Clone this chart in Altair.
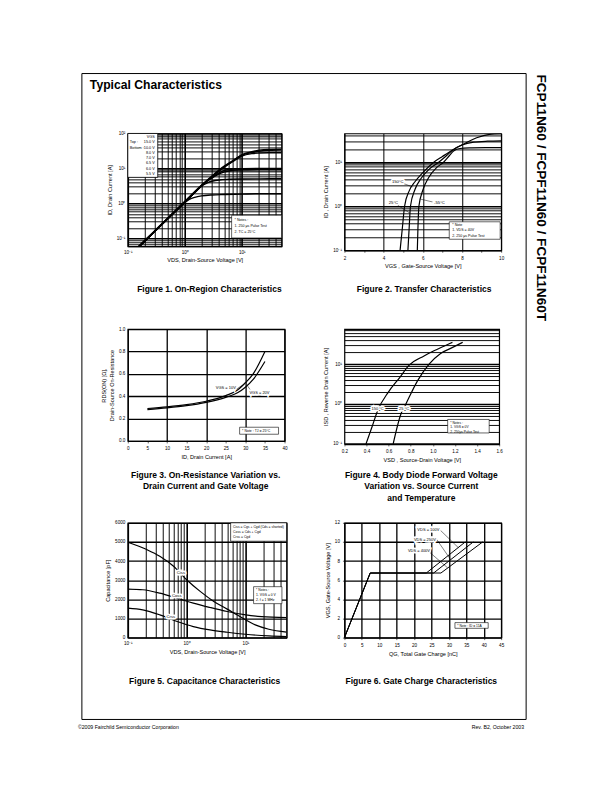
import altair as alt
import pandas as pd

FONT = "Liberation Sans"

# ---------------- Figure 1 : On-Region Characteristics (VDS [V] vs ID [A]) ----------------
f1_x_15 = [0.15, 0.2, 0.3, 0.5, 0.7, 1.0, 1.5, 2.0, 3.0, 5.0, 7.0, 10, 15, 20, 30, 50]
f1_y_15 = [0.057, 0.09, 0.17, 0.38, 0.65, 1.15, 2.2, 3.4, 6.1, 11.8, 16.8, 24.5, 30, 33, 35, 35.5]
f1_x_10 = [0.15, 0.2, 0.3, 0.5, 0.7, 1.0, 1.5, 2.0, 3.0, 5.0, 7.0, 10, 15, 20, 30, 50]
f1_y_10 = [0.055, 0.087, 0.165, 0.37, 0.63, 1.1, 2.1, 3.3, 5.9, 11.3, 16.2, 24, 28.5, 31, 33, 33.5]
f1_x_8 = [0.15, 0.2, 0.3, 0.5, 0.7, 1.0, 1.5, 2.0, 3.0, 5.0, 7.0, 10, 15, 20, 30, 50]
f1_y_8 = [0.053, 0.084, 0.16, 0.36, 0.61, 1.07, 2.05, 3.2, 5.8, 11.0, 15.8, 22.5, 26.5, 27.5, 28, 28]
f1_x_7 = [0.15, 0.2, 0.3, 0.5, 0.7, 1.0, 1.5, 2.0, 2.4, 3.0, 4.0, 5.0, 7.0, 10, 20, 50]
f1_y_7 = [0.055, 0.086, 0.164, 0.37, 0.63, 1.1, 2.1, 3.3, 4.3, 5.5, 7.5, 8.8, 9.6, 9.9, 10, 10]
f1_x_65 = [0.15, 0.2, 0.3, 0.5, 0.7, 1.0, 1.5, 2.0, 2.4, 3.0, 4.0, 5.0, 7.0, 10, 20, 50]
f1_y_65 = [0.054, 0.085, 0.162, 0.365, 0.62, 1.08, 2.07, 3.25, 4.2, 5.3, 7.0, 8.0, 8.8, 9.2, 9.4, 9.5]
f1_x_6 = [0.15, 0.2, 0.3, 0.5, 0.7, 1.0, 1.5, 1.9, 2.5, 3.0, 4.0, 6.0, 10, 20, 50]
f1_y_6 = [0.054, 0.085, 0.162, 0.365, 0.62, 1.08, 2.05, 3.0, 3.9, 4.3, 4.7, 4.9, 5.0, 5.05, 5.1]
f1_x_55 = [0.15, 0.2, 0.3, 0.5, 0.7, 1.0, 1.2, 1.5, 2.0, 3.0, 5.0, 10, 20, 50]
f1_y_55 = [0.053, 0.084, 0.16, 0.36, 0.61, 1.05, 1.3, 1.5, 1.65, 1.75, 1.8, 1.85, 1.9, 1.9]
f1_xgrid = [0.1, 0.2, 0.3, 0.4, 0.5, 0.6, 0.7, 0.8, 0.9, 1, 2, 3, 4, 5, 6, 7, 8, 9, 10, 20, 30, 40, 50]
f1_ygrid = [0.06, 0.07, 0.08, 0.09, 0.1, 0.2, 0.3, 0.4, 0.5, 0.6, 0.7, 0.8, 0.9, 1, 2, 3, 4, 5, 6, 7, 8, 9,
            10, 20, 30, 40, 50, 60, 70, 80, 90, 100]
f1_legend_values = ["VGS", "15.0 V", "10.0 V", "8.0 V", "7.0 V", "6.5 V", "6.0 V", "5.5 V"]
f1_legend_keys = ["", "Top :", "", "", "", "", "", "Bottom :"]
f1_notes = ["* Notes :", "  1. 250 μs Pulse Test", "  2. TC = 25°C"]

# ---------------- Figure 2 : Transfer Characteristics (VGS [V] vs ID [A]) ----------------
f2_x_150 = [4.84, 4.95, 5.07, 5.3, 5.6, 6.0, 6.56, 7.0, 7.57, 8.1, 8.75, 9.4, 10]
f2_y_150 = [0.1, 0.3, 1.0, 2.2, 3.6, 5.8, 10, 13.5, 19.5, 26, 36, 43, 44.5]
f2_x_25 = [5.24, 5.3, 5.37, 5.6, 5.9, 6.3, 6.81, 7.2, 7.57, 8.0, 8.6, 9.3, 10]
f2_y_25 = [0.1, 0.3, 1.0, 2.4, 4.2, 6.8, 10, 14, 19.5, 24.5, 28.5, 30, 30.5]
f2_x_m55 = [5.72, 5.75, 5.8, 6.0, 6.3, 6.7, 7.06, 7.35, 7.57, 7.9, 8.5, 9.2, 10]
f2_y_m55 = [0.1, 0.3, 1.0, 2.3, 4.5, 7.5, 10, 14, 18, 20.5, 21.2, 21.5, 21.5]
f2_xticks = [2, 3, 4, 5, 6, 7, 8, 9, 10]
f2_ygrid = [0.1, 0.2, 0.3, 0.4, 0.5, 0.6, 0.7, 0.8, 0.9, 1, 2, 3, 4, 5, 6, 7, 8, 9, 10, 20, 30, 40]
f2_lab_text = ["150°C", "25°C", "-55°C"]
f2_lab_x = [4.72, 4.5, 6.85]
f2_lab_y = [3.6, 1.19, 1.19]
f2_arr_x = [5.0, 4.72, 6.5]
f2_arr_y = [3.3, 1.05, 1.25]
f2_arr_x2 = [5.47, 5.34, 5.88]
f2_arr_y2 = [2.75, 0.7, 1.45]
f2_notes = ["* Note", "  1. VDS = 40V", "  2. 250 μs Pulse Test"]

# ---------------- Figure 3 : On-Resistance (ID [A] vs RDS(on) [ohm]) ----------------
f3_x_10 = [5, 10, 15, 20, 25, 28, 30, 32, 35]
f3_y_10 = [0.29, 0.305, 0.325, 0.355, 0.405, 0.455, 0.52, 0.6, 0.80]
f3_x_20 = [5, 10, 15, 20, 25, 28, 30, 32, 35]
f3_y_20 = [0.28, 0.295, 0.315, 0.345, 0.39, 0.43, 0.48, 0.55, 0.71]
f3_xticks = [0, 5, 10, 15, 20, 25, 30, 35, 40]
f3_yticks = [0.0, 0.2, 0.4, 0.6, 0.8, 1.0]
f3_lab_text = ["VGS = 10V", "VGS = 20V"]
f3_lab_x = [25.0, 33.6]
f3_lab_y = [0.47, 0.425]
f3_arr_x = [27.4, 31.6]
f3_arr_y = [0.455, 0.44]
f3_arr_x2 = [29.3, 30.6]
f3_arr_y2 = [0.5, 0.49]
f3_note = "* Note : TJ = 25°C"

# ---------------- Figure 4 : Body Diode Forward Voltage (VSD [V] vs ISD [A]) ----------------
f4_x_150 = [0.395, 0.45, 0.5, 0.596, 0.7, 0.786, 0.92, 1.01, 1.1, 1.177]
f4_y_150 = [0.1, 0.27, 0.68, 1.96, 4.6, 9.4, 16, 21.5, 28, 35]
f4_x_25 = [0.641, 0.711, 0.756, 0.861, 0.966, 1.07, 1.17, 1.27]
f4_y_25 = [0.1, 0.56, 1.0, 3.8, 10, 18.5, 25.4, 35]
f4_xticks = [0.2, 0.4, 0.6, 0.8, 1.0, 1.2, 1.4, 1.6]
f4_ygrid = [0.1, 0.2, 0.3, 0.4, 0.5, 0.6, 0.7, 0.8, 0.9, 1, 2, 3, 4, 5, 6, 7, 8, 9, 10, 20, 30, 40, 50, 60, 70]
f4_lab_text = ["150 °C", "25 °C"]
f4_lab_x = [0.5, 0.74]
f4_lab_y = [0.75, 0.75]
f4_notes = ["* Notes :", "  1. VGS = 0V", "  2. 250μs Pulse Test"]

# ---------------- Figure 5 : Capacitance (VDS [V] vs C [pF]) ----------------
f5_x_ciss = [0.1, 0.21, 0.35, 0.6, 1.0, 1.7, 2.9, 4.9, 8.6, 14.7, 25, 50]
f5_y_ciss = [4985, 4600, 4250, 3725, 3025, 2415, 1890, 1487, 1050, 665, 437, 290]
f5_x_coss = [0.1, 0.18, 0.35, 0.69, 1.3, 2.5, 4.9, 10.2, 18.9, 50]
f5_y_coss = [2535, 2500, 2325, 2060, 1800, 1575, 1365, 1190, 1100, 1050]
f5_x_crss = [0.1, 0.18, 0.35, 0.69, 1.3, 2.5, 4.9, 10, 25, 50]
f5_y_crss = [1540, 1450, 1190, 840, 577, 400, 280, 175, 87, 52]
f5_xgrid = [0.1, 0.2, 0.3, 0.4, 0.5, 0.6, 0.7, 0.8, 0.9, 1, 2, 3, 4, 5, 6, 7, 8, 9, 10, 20, 30, 40, 50]
f5_yticks = [0, 1000, 2000, 3000, 4000, 5000, 6000]
f5_lab_text = ["Ciss", "Coss", "Crss"]
f5_lab_x = [0.8, 0.68, 0.54]
f5_lab_y = [3375, 2150, 1065]
f5_legend = ["Ciss = Cgs + Cgd (Cds = shorted)", "Coss = Cds + Cgd", "Crss = Cgd"]
f5_notes = ["* Notes :", "  1. VGS = 0 V", "  2. f = 1 MHz"]

# ---------------- Figure 6 : Gate Charge (QG [nC] vs VGS [V]) ----------------
f6_x_100 = [0, 7.4, 23.5, 34.7]
f6_y_100 = [0, 6.75, 6.75, 10]
f6_x_250 = [0, 7.4, 25.6, 37.0]
f6_y_250 = [0, 6.75, 6.75, 10]
f6_x_400 = [0, 7.4, 27.7, 39.7]
f6_y_400 = [0, 6.75, 6.75, 10]
f6_xticks = [0, 5, 10, 15, 20, 25, 30, 35, 40, 45]
f6_yticks = [0, 2, 4, 6, 8, 10, 12]
f6_lab_text = ["VDS = 100V", "VDS = 250V", "VDS = 400V"]
f6_lab_x = [24.1, 23.1, 21.4]
f6_lab_y = [11.2, 10.25, 9.07]
f6_arr_x = [27.6, 26.5, 24.2]
f6_arr_y = [11.2, 10.25, 9.0]
f6_arr_x2 = [32.7, 30.4, 29.6]
f6_arr_y2 = [9.4, 8.2, 7.3]
f6_note = "* Note : ID = 11A"

captions = [
    "Figure 1. On-Region Characteristics",
    "Figure 2. Transfer Characteristics",
    "Figure 3. On-Resistance Variation  vs.\nDrain Current and Gate Voltage",
    "Figure 4. Body Diode Forward Voltage\nVariation vs. Source Current\nand Temperature",
    "Figure 5. Capacitance Characteristics",
    "Figure 6. Gate  Charge Characteristics",
]
page_title = "Typical Characteristics"
side_text = "FCP11N60 / FCPF11N60 / FCPF11N60T"
footer_left = "©2009 Fairchild Semiconductor Corporation"
footer_right = "Rev. B2, October 2003"

# ------------------------------------------------------------------------------------------
ONE = pd.DataFrame({"k": [0]})
DEC = ("datum.value == 0.1 ? '10⁻¹' : datum.value == 1 ? '10⁰' : "
       "datum.value == 10 ? '10¹' : datum.value == 100 ? '10²' : ''")
MAJ = "abs(log(datum.value)/LN10 - round(log(datum.value)/LN10)) < 0.001"
LOG_GW = {"condition": {"test": MAJ, "value": 1.6}, "value": 0.95}


def curves(items):
    rows = []
    for name, xs, ys in items:
        for i, (a, b) in enumerate(zip(xs, ys)):
            rows.append({"s": name, "i": i, "x": a, "y": b})
    return pd.DataFrame(rows)


def labels_df(texts, xs, ys):
    return pd.DataFrame({"t": texts, "x": xs, "y": ys})


def arrows_df(xs, ys, x2s, y2s):
    return pd.DataFrame({"x": xs, "y": ys, "x2": x2s, "y2": y2s})


def axis(title, values, label_expr=None, fmt=None, grid=True, grid_width=0.9,
         grid_opacity=None, ticks=False, label_pad=3, title_pad=4):
    kw = dict(title=title, values=values, grid=grid, gridColor="black", gridWidth=grid_width,
              ticks=ticks, tickColor="black", tickSize=2, tickWidth=0.6, domain=False,
              labelFont=FONT, labelFontSize=4.6, labelColor="black", labelPadding=label_pad,
              labelFlush=False, labelOverlap=False, labelBound=False,
              titleFont=FONT, titleFontSize=5.6, titleFontWeight="normal", titleColor="black",
              titlePadding=title_pad)
    if label_expr is not None:
        kw["labelExpr"] = label_expr
    if fmt is not None:
        kw["format"] = fmt
    if grid_opacity is not None:
        kw["gridOpacity"] = grid_opacity
    return alt.Axis(**kw)


def ptext(x, y, text, size, align="left", weight="normal", line_height=None, angle=None,
          baseline="alphabetic"):
    mk = dict(align=align, baseline=baseline, font=FONT, fontSize=size, fontWeight=weight,
              color="black", lineBreak="\n")
    if line_height is not None:
        mk["lineHeight"] = line_height
    if angle is not None:
        mk["angle"] = angle
    return alt.Chart(ONE).mark_text(**mk).encode(
        x=alt.value(x), y=alt.value(y), text=alt.value(text))


def pbox(x, y, x2, y2, fill="white", stroke="black", sw=0.6, opacity=1):
    return alt.Chart(ONE).mark_rect(fill=fill, stroke=stroke, strokeWidth=sw, opacity=opacity).encode(
        x=alt.value(x), x2=alt.value(x2), y=alt.value(y), y2=alt.value(y2))


class Panel:
    def __init__(self, sx, sy, xa, ya):
        self.sx, self.sy, self.xa, self.ya = sx, sy, xa, ya

    def X(self):
        return alt.X("x:Q", scale=self.sx, axis=self.xa)

    def Y(self):
        return alt.Y("y:Q", scale=self.sy, axis=self.ya)

    def lines(self, df, interp="monotone", sw=1.2):
        return alt.Chart(df).mark_line(color="black", strokeWidth=sw, interpolate=interp, clip=True).encode(
            x=self.X(), y=self.Y(), detail="s:N", order="i:Q")

    def labels(self, df, size=4.2):
        enc = dict(x=self.X(), y=self.Y(), text="t:N")
        halo = alt.Chart(df).mark_text(font=FONT, fontSize=size, baseline="middle", fill="white",
                                       stroke="white", strokeWidth=3).encode(**enc)
        txt = alt.Chart(df).mark_text(font=FONT, fontSize=size, baseline="middle", color="black").encode(**enc)
        return [halo, txt]

    def arrows(self, df):
        return alt.Chart(df).mark_rule(color="black", strokeWidth=0.5).encode(
            x=self.X(), y=self.Y(), x2="x2:Q", y2="y2:Q")


def caption(x, y, text):
    return ptext(x, y, text, 8.5, align="center", weight="bold", line_height=11.5)


# ---------------- panel 1 ----------------
W1, H1 = 154, 113
P1 = Panel(alt.Scale(type="log", domain=[0.1, 50], nice=False),
           alt.Scale(type="log", domain=[0.06, 100], nice=False),
           axis("VDS, Drain-Source Voltage [V]", f1_xgrid, DEC, grid_width=LOG_GW),
           axis("ID, Drain Current [A]", f1_ygrid, DEC, grid_width=LOG_GW))
f1_df = curves([("15.0V", f1_x_15, f1_y_15), ("10.0V", f1_x_10, f1_y_10), ("8.0V", f1_x_8, f1_y_8),
                ("7.0V", f1_x_7, f1_y_7), ("6.5V", f1_x_65, f1_y_65), ("6.0V", f1_x_6, f1_y_6),
                ("5.5V", f1_x_55, f1_y_55)])
p1 = alt.layer(
    # invisible page-size rectangle: anchors the whole page layout (page origin at 8,8)
    pbox(-119, -124, 476, 651, fill="white", stroke=None, sw=0, opacity=0),
    pbox(-46, -60, 399, 587, fill="transparent", stroke="black", sw=1.0),
    ptext(-38, -45, page_title, 12.2, weight="bold"),
    ptext(414, -59, side_text, 13.6, weight="bold", angle=90, baseline="middle"),
    ptext(-50, 597, footer_left, 5.2),
    ptext(397, 597, footer_right, 5.2, align="right"),
    P1.lines(f1_df, sw=1.4),
    pbox(0, 0, 30, 44, sw=0.8),
    ptext(27, 4.5, "\n".join(f1_legend_values), 3.8, align="right", line_height=5.3),
    ptext(2, 4.5, "\n".join(f1_legend_keys), 3.8, line_height=5.3),
    pbox(104, 82, W1, 104.7, sw=0.6),
    ptext(107, 87.5, "\n".join(f1_notes), 3.6, line_height=6),
    caption(81.7, 159, captions[0]),
).properties(width=W1, height=H1)

# ---------------- panel 2 ----------------
W2, H2 = 157, 117
P2 = Panel(alt.Scale(domain=[2, 10], nice=False, zero=False),
           alt.Scale(type="log", domain=[0.1, 45], nice=False),
           axis("VGS , Gate-Source Voltage  [V]", f2_xticks,
                "datum.value % 2 == 0 ? format(datum.value, 'd') : ''",
                grid_width=1.0, ticks=True,
                grid_opacity={"condition": {"test": "datum.value % 2 == 0", "value": 1}, "value": 0}),
           axis("ID , Drain Current  [A]", f2_ygrid, DEC, grid_width=LOG_GW))
f2_df = curves([("150", f2_x_150, f2_y_150), ("25", f2_x_25, f2_y_25), ("-55", f2_x_m55, f2_y_m55)])
p2 = alt.layer(
    P2.lines(f2_df),
    P2.arrows(arrows_df(f2_arr_x, f2_arr_y, f2_arr_x2, f2_arr_y2)),
    *P2.labels(labels_df(f2_lab_text, f2_lab_x, f2_lab_y)),
    pbox(105, 88.5, W2 - 1, 106, sw=0.6),
    ptext(108, 93, "\n".join(f2_notes), 3.6, line_height=5.2),
    caption(79.8, 159, captions[1]),
).properties(width=W2, height=H2)

# ---------------- panel 3 ----------------
W3, H3 = 157, 112
P3 = Panel(alt.Scale(domain=[0, 40], nice=False),
           alt.Scale(domain=[0, 1], nice=False),
           axis("ID, Drain Current [A]", f3_xticks, grid_width=1.3, ticks=True,
                grid_opacity={"condition": {"test": "datum.value % 10 == 0", "value": 1}, "value": 0}),
           axis(["RDS(ON) [Ω],", "Drain-Source On-Resistance"], f3_yticks, fmt=".1f", grid_width=1.3))
f3_df = curves([("10V", f3_x_10, f3_y_10), ("20V", f3_x_20, f3_y_20)])
p3 = alt.layer(
    P3.lines(f3_df),
    P3.arrows(arrows_df(f3_arr_x, f3_arr_y, f3_arr_x2, f3_arr_y2)),
    *P3.labels(labels_df(f3_lab_text, f3_lab_x, f3_lab_y), size=4.0),
    pbox(112, 98.3, 151, 105.3, sw=0.6),
    ptext(114.5, 103.3, f3_note, 3.5),
    caption(78, 149, captions[2]),
).properties(width=W3, height=H3)

# ---------------- panel 4 ----------------
W4, H4 = 155, 115
P4 = Panel(alt.Scale(domain=[0.2, 1.6], nice=False, zero=False),
           alt.Scale(type="log", domain=[0.1, 75], nice=False),
           axis("VSD , Source-Drain Voltage  [V]", f4_xticks, fmt=".1f", grid=False, ticks=True),
           axis("ISD , Reverse Drain Current  [A]", f4_ygrid, DEC, grid_width=LOG_GW))
f4_df = curves([("150", f4_x_150, f4_y_150), ("25", f4_x_25, f4_y_25)])
p4 = alt.layer(
    P4.lines(f4_df),
    *P4.labels(labels_df(f4_lab_text, f4_lab_x, f4_lab_y), size=4.0),
    pbox(103.4, 90.5, 145, 104, sw=0.6),
    ptext(106, 95, "\n".join(f4_notes), 3.3, line_height=4.4),
    caption(77, 149, captions[3]),
).properties(width=W4, height=H4)

# ---------------- panel 5 ----------------
W5, H5 = 159, 115
P5 = Panel(alt.Scale(type="log", domain=[0.1, 50], nice=False),
           alt.Scale(domain=[0, 6000], nice=False),
           axis("VDS, Drain-Source Voltage [V]", f5_xgrid, DEC, grid_width=LOG_GW),
           axis("Capacitance [pF]", f5_yticks, fmt="d", grid_width=1.3))
f5_df = curves([("Ciss", f5_x_ciss, f5_y_ciss), ("Coss", f5_x_coss, f5_y_coss), ("Crss", f5_x_crss, f5_y_crss)])
p5 = alt.layer(
    P5.lines(f5_df),
    *P5.labels(labels_df(f5_lab_text, f5_lab_x, f5_lab_y), size=4.2),
    pbox(103, 0, W5, 18.5, sw=0.7),
    ptext(105.5, 5.5, "\n".join(f5_legend), 3.4, line_height=5),
    pbox(126, 64, 154.4, 81, sw=0.6),
    ptext(128.5, 68.5, "\n".join(f5_notes), 3.4, line_height=5),
    caption(77, 161, captions[4]),
).properties(width=W5, height=H5)

# ---------------- panel 6 ----------------
W6, H6 = 157, 115
P6 = Panel(alt.Scale(domain=[0, 45], nice=False),
           alt.Scale(domain=[0, 12], nice=False),
           axis("QG, Total Gate Charge [nC]", f6_xticks, grid_width=1.3, ticks=True),
           axis("VGS, Gate-Source Voltage [V]", f6_yticks, grid_width=1.3, ticks=True))
f6_df = curves([("100V", f6_x_100, f6_y_100), ("250V", f6_x_250, f6_y_250), ("400V", f6_x_400, f6_y_400)])
p6 = alt.layer(
    P6.lines(f6_df, interp="linear", sw=1.0),
    P6.arrows(arrows_df(f6_arr_x, f6_arr_y, f6_arr_x2, f6_arr_y2)),
    *P6.labels(labels_df(f6_lab_text, f6_lab_x, f6_lab_y), size=4.0),
    pbox(110.7, 100, 144, 105.7, sw=0.6),
    ptext(113, 104.3, f6_note, 3.3),
    caption(77, 161, captions[5]),
).properties(width=W6, height=H6)

chart = alt.concat(
    p1, p2, p3, p4, p5, p6, columns=2, spacing={"row": 79, "column": 58}, bounds="flush"
).properties(
    padding=0, autosize=alt.AutoSizeParams(type="pad"), background="white"
).configure_view(stroke="black", strokeWidth=1.2)

chart.save("out.html", embed_options={"renderer": "svg", "actions": False})
